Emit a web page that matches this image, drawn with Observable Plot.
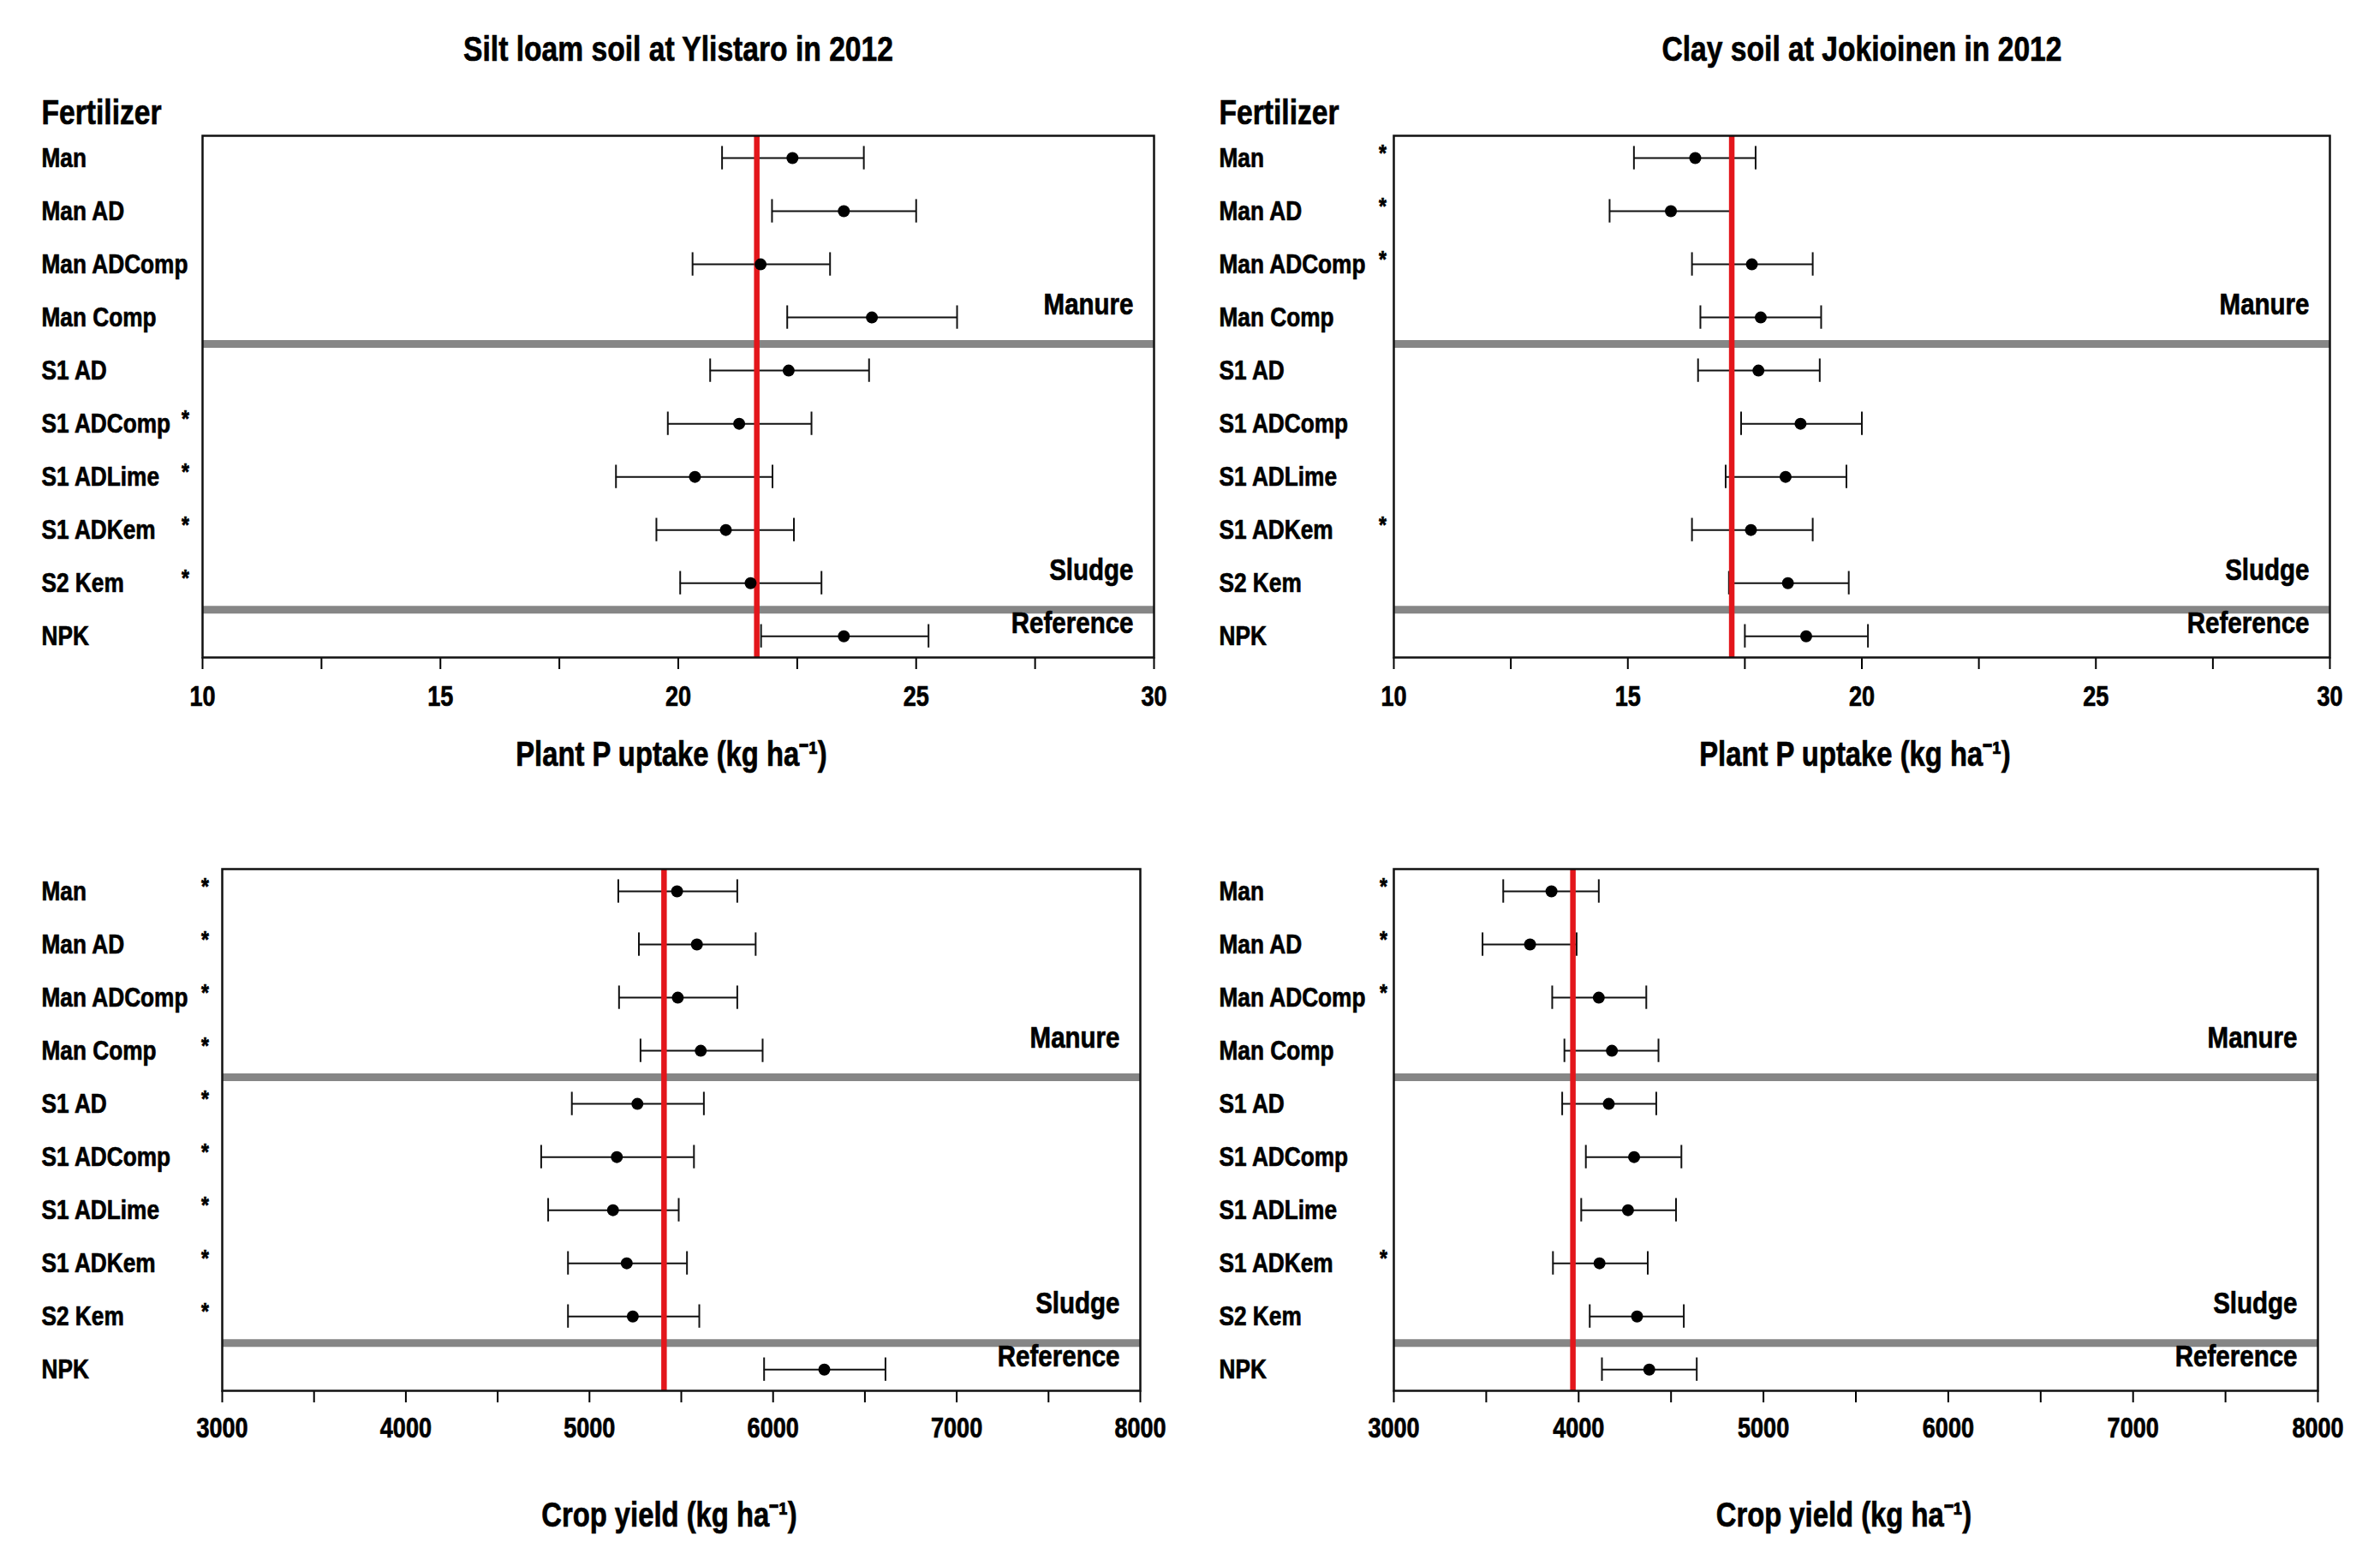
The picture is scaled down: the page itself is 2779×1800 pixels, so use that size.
<!DOCTYPE html>
<html>
<head>
<meta charset="utf-8">
<script src="https://cdn.jsdelivr.net/npm/d3@7"></script>
<script src="https://cdn.jsdelivr.net/npm/@observablehq/plot@0.6"></script>
<style>
  html, body { margin: 0; padding: 0; background: #fff; }
  #chart { position: relative; width: 2779px; height: 1800px; background: #fff; overflow: hidden; }
  #chart > svg { position: absolute; overflow: visible; }
  #chart g[aria-label="x-axis tick"] path { stroke-width: 2; }
  #chart text { stroke: #000; stroke-width: 0.7px; paint-order: stroke; }
</style>
</head>
<body>
<div id="chart"></div>
<script>
// ---------------- data ----------------
const categories = ["Man", "Man AD", "Man ADComp", "Man Comp", "S1 AD", "S1 ADComp", "S1 ADLime", "S1 ADKem", "S2 Kem", "NPK"];
const groupLabels = ["Manure", "Sludge", "Reference"];
const groupLast = ["Man Comp", "S2 Kem", "NPK"];

const uptakeTicks = [10, 15, 20, 25, 30];
const yieldTicks = [3000, 4000, 5000, 6000, 7000, 8000];

const siteTitles = ["Silt loam soil at Ylistaro in 2012", "Clay soil at Jokioinen in 2012"];
const uptakeTitle = "Plant P uptake (kg ha\u207B\u00B9)";
const yieldTitle = "Crop yield (kg ha\u207B\u00B9)";
const fertilizerHeading = "Fertilizer";

// Plant P uptake, Ylistaro
const uptakeYlistaroMean = [22.40, 23.48, 21.73, 24.07, 22.32, 21.28, 20.35, 21.00, 21.52, 23.48];
const uptakeYlistaroLow  = [20.92, 21.97, 20.30, 22.29, 20.67, 19.78, 18.69, 19.54, 20.04, 21.74];
const uptakeYlistaroHigh = [23.90, 25.00, 23.19, 25.86, 24.01, 22.80, 21.98, 22.43, 23.01, 25.26];
const uptakeYlistaroSig  = [0, 0, 0, 0, 0, 1, 1, 1, 1, 0];
const uptakeYlistaroRef  = 21.65;

// Plant P uptake, Jokioinen
const uptakeJokioinenMean = [16.44, 15.92, 17.65, 17.84, 17.79, 18.69, 18.37, 17.63, 18.42, 18.81];
const uptakeJokioinenLow  = [15.13, 14.61, 16.37, 16.55, 16.50, 17.42, 17.09, 16.37, 17.16, 17.50];
const uptakeJokioinenHigh = [17.73, 17.22, 18.95, 19.13, 19.10, 20.00, 19.67, 18.95, 19.72, 20.13];
const uptakeJokioinenSig  = [1, 1, 1, 0, 0, 0, 0, 1, 0, 0];
const uptakeJokioinenRef  = 17.22;

// Crop yield, Ylistaro
const yieldYlistaroMean = [5477, 5585, 5481, 5606, 5261, 5149, 5128, 5203, 5236, 6279];
const yieldYlistaroLow  = [5157, 5269, 5161, 5278, 4904, 4737, 4775, 4883, 4883, 5951];
const yieldYlistaroHigh = [5805, 5905, 5805, 5943, 5623, 5569, 5486, 5531, 5598, 6612];
const yieldYlistaroSig  = [1, 1, 1, 1, 1, 1, 1, 1, 1, 0];
const yieldYlistaroRef  = 5406;

// Crop yield, Jokioinen
const yieldJokioinenMean = [3853, 3737, 4109, 4180, 4163, 4300, 4267, 4113, 4316, 4382];
const yieldJokioinenLow  = [3592, 3480, 3857, 3923, 3911, 4039, 4014, 3861, 4060, 4126];
const yieldJokioinenHigh = [4109, 3989, 4366, 4432, 4420, 4556, 4527, 4374, 4569, 4639];
const yieldJokioinenSig  = [1, 1, 1, 0, 0, 0, 0, 1, 0, 0];
const yieldJokioinenRef  = 3969;

// ---------------- drawing ----------------
const FONT = "'Liberation Sans', Arial, sans-serif";
const NARROW = 0.82; // horizontal squeeze to mimic Arial Narrow

function withMinor(major) {
  const out = [];
  major.forEach((v, k) => {
    out.push(v);
    if (k < major.length - 1) out.push((v + major[k + 1]) / 2);
  });
  return out;
}

// squeeze every text horizontally about its own anchor point
function narrowText(svg) {
  svg.querySelectorAll("text").forEach(t => {
    let tr = t.getAttribute("transform") || "";
    const x = t.getAttribute("x");
    if (x != null && isFinite(+x)) {
      tr += ` translate(${+x},0)`;
      t.removeAttribute("x");
    }
    t.setAttribute("transform", (tr + ` scale(${NARROW},1)`).trim());
  });
}

function panel(cfg) {
  const rows = categories.map((c, i) => ({
    cat: c, i, mean: cfg.mean[i], lo: cfg.low[i], hi: cfg.high[i], sig: cfg.sig[i]
  }));
  const seps = groupLast.slice(0, -1).map(c => categories.indexOf(c) + 0.5);
  const groups = groupLabels.map((g, k) => ({ name: g, pos: categories.indexOf(groupLast[k]) - 0.24 }));
  const allTicks = withMinor(cfg.ticks);
  const capHalf = 0.22;
  const txt = { fontWeight: "bold", fill: "#000", lineAnchor: "middle" };

  const marks = [
    Plot.ruleY(seps, { y: d => d, stroke: "#868686", strokeWidth: 9 }),
    Plot.ruleY(rows, { x1: "lo", x2: "hi", y: "i", stroke: "#111", strokeWidth: 2 }),
    Plot.ruleX(rows, { x: "lo", y1: d => d.i - capHalf, y2: d => d.i + capHalf, stroke: "#111", strokeWidth: 2 }),
    Plot.ruleX(rows, { x: "hi", y1: d => d.i - capHalf, y2: d => d.i + capHalf, stroke: "#111", strokeWidth: 2 }),
    Plot.ruleX([cfg.ref], { x: d => d, stroke: "#e3161b", strokeWidth: 6.5 }),
    Plot.dot(rows, { x: "mean", y: "i", r: 7, fill: "#000", stroke: "none" }),
    Plot.frame({ stroke: "#111", strokeWidth: 2.5 }),
    Plot.text(rows, { ...txt, y: "i", text: "cat", frameAnchor: "left", textAnchor: "start", dx: cfg.labelDx, fontSize: 32 }),
    Plot.text(rows.filter(d => d.sig), { ...txt, y: "i", text: () => "*", frameAnchor: "left", textAnchor: "middle", dx: cfg.starDx, dy: -6, fontSize: 28 }),
    Plot.text(groups, { ...txt, y: "pos", text: "name", frameAnchor: "right", textAnchor: "end", dx: -24, fontSize: 36 }),
    Plot.text([cfg.xTitle], { ...txt, text: d => d, frameAnchor: "bottom", dy: cfg.xTitleDy, dx: cfg.xTitleDx, fontSize: 40 })
  ];
  if (cfg.title) {
    marks.push(Plot.text([cfg.title], { ...txt, text: d => d, frameAnchor: "top", dy: -101, fontSize: 41 }));
    marks.push(Plot.text([fertilizerHeading], { ...txt, text: d => d, frameAnchor: "top-left", textAnchor: "start", dx: cfg.labelDx, dy: -27, fontSize: 41 }));
  }

  const svg = Plot.plot({
    width: cfg.width,
    height: cfg.height,
    marginLeft: cfg.ml,
    marginRight: cfg.mr,
    marginTop: cfg.mt,
    marginBottom: cfg.mb,
    style: { fontFamily: FONT, fontSize: "33px", fontWeight: "bold", color: "#000", background: "transparent", overflow: "visible" },
    x: {
      domain: [cfg.ticks[0], cfg.ticks[cfg.ticks.length - 1]],
      ticks: allTicks,
      tickFormat: d => cfg.ticks.includes(d) ? String(d) : "",
      tickSize: 14,
      tickPadding: cfg.tickPad,
      label: null
    },
    y: { domain: [-0.42, 9.4], reverse: true, axis: null },
    marks
  });
  narrowText(svg);
  svg.style.left = cfg.left + "px";
  svg.style.top = cfg.top + "px";
  return svg;
}

const chart = document.getElementById("chart");

chart.appendChild(panel({
  left: 0, top: 0, width: 1390, height: 930, ml: 236, mr: 43, mt: 158, mb: 163, labelDx: -188, starDx: -20,
  mean: uptakeYlistaroMean, low: uptakeYlistaroLow, high: uptakeYlistaroHigh, sig: uptakeYlistaroSig, ref: uptakeYlistaroRef,
  ticks: uptakeTicks, title: siteTitles[0], xTitle: uptakeTitle, xTitleDy: 114, xTitleDx: -8, tickPad: 19
}));
chart.appendChild(panel({
  left: 1390, top: 0, width: 1389, height: 930, ml: 237, mr: 59, mt: 158, mb: 163, labelDx: -204, starDx: -13,
  mean: uptakeJokioinenMean, low: uptakeJokioinenLow, high: uptakeJokioinenHigh, sig: uptakeJokioinenSig, ref: uptakeJokioinenRef,
  ticks: uptakeTicks, title: siteTitles[1], xTitle: uptakeTitle, xTitleDy: 114, xTitleDx: -8, tickPad: 19
}));
chart.appendChild(panel({
  left: 0, top: 930, width: 1390, height: 870, ml: 259, mr: 59, mt: 84, mb: 177, labelDx: -211, starDx: -20,
  mean: yieldYlistaroMean, low: yieldYlistaroLow, high: yieldYlistaroHigh, sig: yieldYlistaroSig, ref: yieldYlistaroRef,
  ticks: yieldTicks, title: null, xTitle: yieldTitle, xTitleDy: 146, xTitleDx: -14, tickPad: 17
}));
chart.appendChild(panel({
  left: 1390, top: 930, width: 1389, height: 870, ml: 237, mr: 73, mt: 84, mb: 177, labelDx: -204, starDx: -12,
  mean: yieldJokioinenMean, low: yieldJokioinenLow, high: yieldJokioinenHigh, sig: yieldJokioinenSig, ref: yieldJokioinenRef,
  ticks: yieldTicks, title: null, xTitle: yieldTitle, xTitleDy: 146, xTitleDx: -14, tickPad: 17
}));
</script>
</body>
</html>
